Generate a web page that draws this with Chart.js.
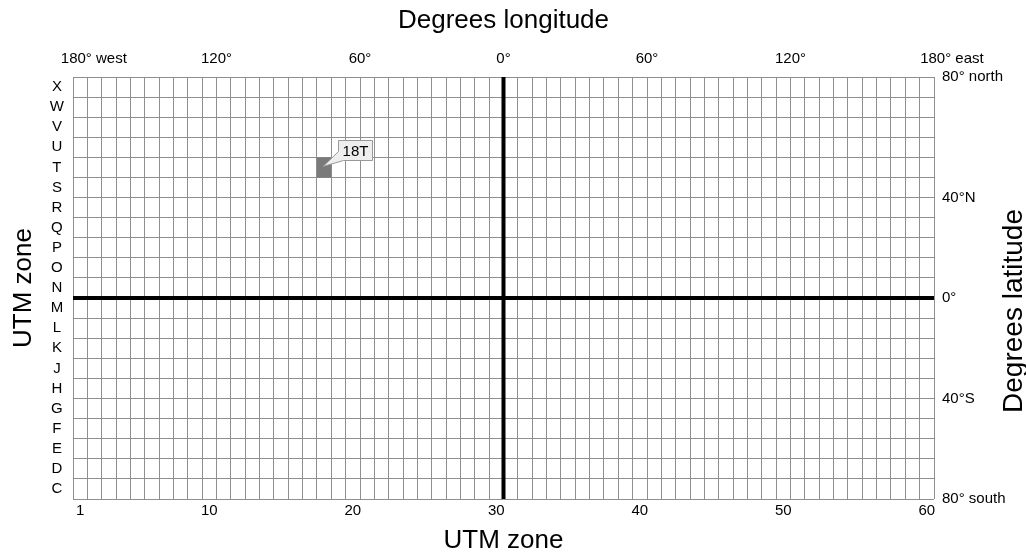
<!DOCTYPE html>
<html>
<head>
<meta charset="utf-8">
<title>UTM zones</title>
<script src="https://cdn.jsdelivr.net/npm/chart.js@4.4.1/dist/chart.umd.min.js"></script>
<style>
    body { margin: 0; background: #fff; }
    #wrap { width: 1026px; height: 552px; }
</style>
</head>
<body>
<div id="wrap"><canvas id="utmChart"></canvas></div>
<script>
// UTM grid: 60 zones across, lettered bands up the side
const zones = [];
for (let z = 1; z <= 60; z++) zones.push(z);
const zoneTicks = [1, 10, 20, 30, 40, 50, 60];

const bandLetters = ['C', 'D', 'E', 'F', 'G', 'H', 'J', 'K', 'L', 'M', 'N',
                     'O', 'P', 'Q', 'R', 'S', 'T', 'U', 'V', 'W', 'X'];

const lonValues = [-180, -120, -60, 0, 60, 120, 180];
const lonLabels = ['180° west', '120°', '60°', '0°', '60°', '120°', '180° east'];

// latitude labels sit on band boundaries (0 = bottom of C, 21 = top of X)
const latRows = [0, 5, 10, 15, 21];
const latLabels = ['80° south', '40°S', '0°', '40°N', '80° north'];

// highlighted cell
const highlightZone = 18;
const highlightBand = 'T';
const highlightLabel = '18T';

// heavy reference lines
const equatorBoundary = 10;   // between bands M and N
const meridianBoundary = 30;  // between zones 30 and 31

const FONT = "'Liberation Sans', Arial, Helvetica, sans-serif";
const GRID = '#8f8f8f';

Chart.defaults.font.family = FONT;
Chart.defaults.color = '#000';

// zone coordinate (centre of zone z is z) for a longitude
function lonToZone(lon) {
    return 30.5 + lon / 6;
}

// the end labels sit a little to the right in the original
function lonNudge(lon) {
    if (lon === -180) return 1.45;
    if (lon === 180) return 1.25;
    return 0;
}

// Build the cell outline from zone / band
const bandIdx = bandLetters.indexOf(highlightBand);
const cellShape = [
    { x: highlightZone - 0.5, y: bandIdx },
    { x: highlightZone + 0.5, y: bandIdx },
    { x: highlightZone + 0.5, y: bandIdx + 1 },
    { x: highlightZone - 0.5, y: bandIdx + 1 },
    { x: highlightZone - 0.5, y: bandIdx }
];

const equatorLine = [
    { x: zones[0] - 0.5, y: equatorBoundary },
    { x: zones[zones.length - 1] + 0.5, y: equatorBoundary }
];
const meridianLine = [
    { x: meridianBoundary + 0.5, y: 0 },
    { x: meridianBoundary + 0.5, y: bandLetters.length }
];

// Callout box for the highlighted cell
const calloutPlugin = {
    id: 'callout',
    afterDatasetsDraw(chart) {
        const { ctx, scales } = chart;
        const cx = scales.x.getPixelForValue(highlightZone);
        const cy = scales.y.getPixelForValue(bandIdx + 0.5);
        const bx = Math.round(cx + 14) + 0.5;
        const by = Math.round(cy - 27) + 0.5;
        const bw = 34;
        const bh = 20;

        ctx.save();
        ctx.fillStyle = '#eeeeee';
        ctx.strokeStyle = '#999999';
        ctx.lineWidth = 1;
        ctx.beginPath();
        ctx.moveTo(bx, by);
        ctx.lineTo(bx + bw, by);
        ctx.lineTo(bx + bw, by + bh);
        ctx.lineTo(bx + 5, by + bh);
        ctx.lineTo(cx - 1, cy - 1);
        ctx.lineTo(bx, by + 11);
        ctx.closePath();
        ctx.fill();
        ctx.stroke();

        ctx.fillStyle = '#000';
        ctx.font = '15px ' + FONT;
        ctx.textAlign = 'center';
        ctx.textBaseline = 'middle';
        ctx.fillText(highlightLabel, bx + bw / 2, by + bh / 2 + 1);
        ctx.restore();
    }
};

// Right-hand title reads bottom to top, like the left one
const rightTitlePlugin = {
    id: 'rightTitle',
    afterDraw(chart) {
        const ctx = chart.ctx;
        ctx.save();
        ctx.translate(chart.width - 12, 311);
        ctx.rotate(-Math.PI / 2);
        ctx.fillStyle = '#000';
        ctx.font = '28px ' + FONT;
        ctx.textAlign = 'center';
        ctx.textBaseline = 'middle';
        ctx.fillText('Degrees latitude', 0, 0);
        ctx.restore();
    }
};

const ctx = document.getElementById('utmChart').getContext('2d');

new Chart(ctx, {
    type: 'scatter',
    data: {
        datasets: [{
            type: 'line',
            data: cellShape,
            showLine: true,
            fill: 'shape',
            backgroundColor: '#7a7a7a',
            borderWidth: 0,
            pointRadius: 0,
            xAxisID: 'x',
            yAxisID: 'y'
        }, {
            type: 'line',
            data: equatorLine,
            borderColor: '#000',
            borderWidth: 4,
            pointRadius: 0,
            fill: false,
            xAxisID: 'x',
            yAxisID: 'y'
        }, {
            type: 'line',
            data: meridianLine,
            borderColor: '#000',
            borderWidth: 4,
            pointRadius: 0,
            fill: false,
            xAxisID: 'x',
            yAxisID: 'y'
        }]
    },
    options: {
        responsive: true,
        maintainAspectRatio: false,
        animation: false,
        events: [],
        layout: { padding: 0 },
        plugins: {
            legend: { display: false },
            tooltip: { enabled: false }
        },
        scales: {
            x: {
                type: 'linear',
                position: 'bottom',
                min: 0.5,
                max: 60.5,
                afterBuildTicks: function(scale) {
                    scale.ticks = zones.map(z => ({ value: z }));
                },
                ticks: {
                    autoSkip: false,
                    maxRotation: 0,
                    minRotation: 0,
                    padding: 3,
                    font: { size: 15 },
                    callback: function(value) {
                        return zoneTicks.includes(value) ? String(value) : '';
                    }
                },
                grid: { offset: true, color: GRID, lineWidth: 1, drawTicks: false },
                border: { display: false },
                title: {
                    display: true,
                    text: 'UTM zone',
                    font: { size: 26, lineHeight: 1 },
                    padding: { top: 0, bottom: -2 }
                },
                afterFit: function(scale) { scale.height = 53; }
            },
            x2: {
                type: 'linear',
                position: 'top',
                min: 0.5,
                max: 60.5,
                afterBuildTicks: function(scale) {
                    scale.ticks = lonValues.map(lon => ({ value: lonToZone(lon) + lonNudge(lon) }));
                },
                ticks: {
                    autoSkip: false,
                    maxRotation: 0,
                    minRotation: 0,
                    padding: 9,
                    font: { size: 15 },
                    callback: function(value, index) {
                        return lonLabels[index];
                    }
                },
                grid: { display: false, drawTicks: false },
                border: { display: false },
                title: {
                    display: true,
                    text: 'Degrees longitude',
                    font: { size: 26, lineHeight: 1 },
                    padding: { top: 8, bottom: 0 }
                },
                afterFit: function(scale) { scale.height = 77; }
            },
            y: {
                type: 'linear',
                position: 'left',
                min: 0,
                max: bandLetters.length,
                afterBuildTicks: function(scale) {
                    scale.ticks = bandLetters.map((b, i) => ({ value: i + 0.5 }));
                },
                ticks: {
                    autoSkip: false,
                    padding: 9,
                    crossAlign: 'center',
                    font: { size: 15 },
                    callback: function(value, index) {
                        return bandLetters[index];
                    }
                },
                grid: { offset: true, color: GRID, lineWidth: 1, drawTicks: false },
                border: { display: false },
                title: {
                    display: true,
                    text: 'UTM zone',
                    font: { size: 26, lineHeight: 1 },
                    padding: { top: 11, bottom: 0 }
                },
                afterFit: function(scale) { scale.width = 73; }
            },
            y2: {
                type: 'linear',
                position: 'right',
                min: 0,
                max: bandLetters.length,
                afterBuildTicks: function(scale) {
                    scale.ticks = latRows.map(r => ({ value: r }));
                },
                ticks: {
                    autoSkip: false,
                    padding: 8,
                    font: { size: 15 },
                    callback: function(value, index) {
                        return latLabels[index];
                    }
                },
                grid: { display: false, drawTicks: false },
                border: { display: false },
                afterFit: function(scale) { scale.width = 92; }
            }
        }
    },
    plugins: [calloutPlugin, rightTitlePlugin]
});
</script>
</body>
</html>
